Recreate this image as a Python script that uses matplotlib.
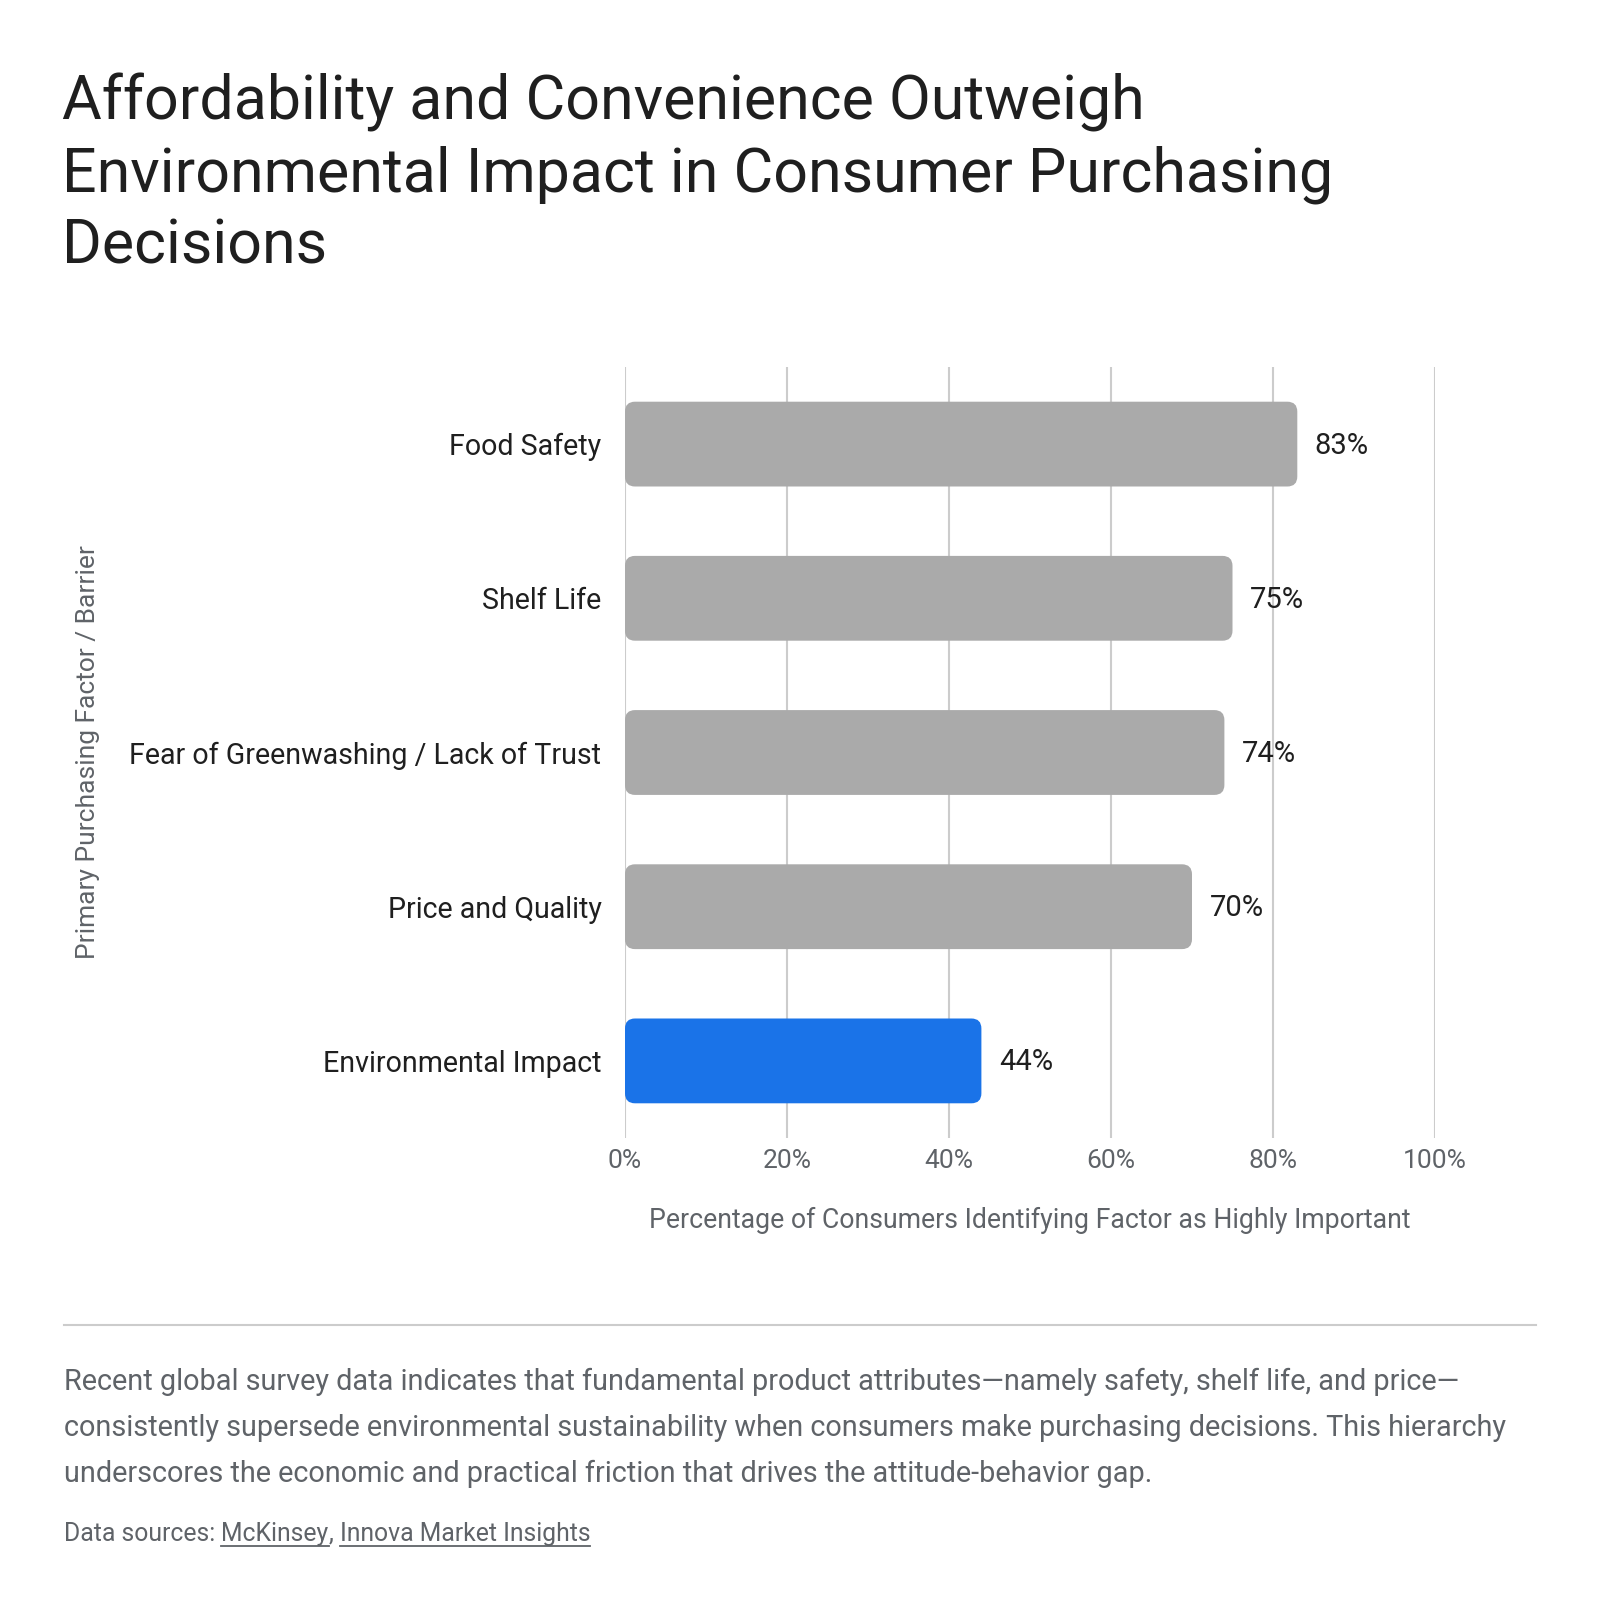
import matplotlib
matplotlib.use("Agg")
import matplotlib.pyplot as plt
from matplotlib.patches import FancyBboxPatch
from matplotlib.ticker import FuncFormatter

plt.rcParams['font.family'] = ['Roboto', 'DejaVu Sans']

categories = ["Food Safety", "Shelf Life", "Fear of Greenwashing / Lack of Trust",
              "Price and Quality", "Environmental Impact"]
values = [83, 75, 74, 70, 44]
highlight = [False, False, False, False, True]
x_ticks = [0, 20, 40, 60, 80, 100]

title_lines = ["Affordability and Convenience Outweigh",
               "Environmental Impact in Consumer Purchasing",
               "Decisions"]
body_lines = ["Recent global survey data indicates that fundamental product attributes\u2014namely safety, shelf life, and price\u2014",
              "consistently supersede environmental sustainability when consumers make purchasing decisions. This hierarchy",
              "underscores the economic and practical friction that drives the attitude-behavior gap."]

W, H = 1600, 1614
fig = plt.figure(figsize=(W / 100, H / 100), dpi=100)
fig.patch.set_facecolor("white")

def fx(px):
    return px / W

def fy(py):
    return 1 - py / H

ax_left, ax_right, ax_top, ax_bot = 625, 1435, 367, 1138
ax = fig.add_axes([fx(ax_left), fy(ax_bot), fx(ax_right - ax_left), (ax_bot - ax_top) / H])

ypos = list(range(len(categories)))
ax.set_xlim(0, 100)
ax.set_ylim(len(categories) - 0.5, -0.5)

bar_h = 0.55
px_per_x = (ax_right - ax_left) / 100.0
px_per_y = (ax_bot - ax_top) / len(categories)
radius_px = 10
for y, v, hl in zip(ypos, values, highlight):
    color = "#1a73e8" if hl else "#aaaaaa"
    p = FancyBboxPatch((0, y - bar_h / 2), v, bar_h,
                       boxstyle=f"round,pad=0,rounding_size={radius_px / px_per_x}",
                       mutation_aspect=px_per_x / px_per_y,
                       facecolor=color, edgecolor="none", zorder=3)
    ax.add_patch(p)
    ax.text(v + 17.5 / px_per_x, y + 0.01, f"{v}%", va="center", ha="left",
            fontsize=21, color="#1f1f1f", zorder=4)

ax.set_xticks(x_ticks)
ax.xaxis.set_major_formatter(FuncFormatter(lambda v, p: f"{v:.0f}%"))
ax.set_yticks(ypos)
ax.set_yticklabels(categories)
ax.tick_params(axis="y", length=0, pad=17, labelsize=20.6, labelcolor="#1f1f1f")
ax.tick_params(axis="x", length=0, pad=8, labelsize=19, labelcolor="#5f6368")
ax.grid(axis="x", color="#cccccc", linewidth=1.5, zorder=0)
ax.set_axisbelow(True)
for s in ax.spines.values():
    s.set_visible(False)

ax.set_xlabel("Percentage of Consumers Identifying Factor as Highly Important",
              fontsize=19.2, color="#5f6368", labelpad=24)
fig.text(fx(88), fy(752), "Primary Purchasing Factor / Barrier", rotation=90,
         ha="center", va="center", fontsize=19, color="#5f6368")

# Title
for i, line in enumerate(title_lines):
    fig.text(fx(62), fy(120 + i * 71.5), line, fontsize=43.8, color="#1f1f1f",
             ha="left", va="baseline")

# Separator
fig.add_artist(plt.Line2D([fx(64), fx(1536)], [fy(1325), fy(1325)],
                          color="#cccccc", linewidth=1.5))

for i, line in enumerate(body_lines):
    fig.text(fx(64), fy(1390 + i * 46), line, fontsize=20.8, color="#5f6368",
             ha="left", va="baseline")

# Sources with underlines
src_y = fy(1541)
t0 = fig.text(fx(64), src_y, "Data sources: ", fontsize=17.8, color="#5f6368",
              ha="left", va="baseline")
fig.canvas.draw()
r = fig.canvas.get_renderer()
bb = t0.get_window_extent(r)
x = bb.x1
for j, part in enumerate(["McKinsey", ", ", "Innova Market Insights"]):
    t = fig.text(x / W, src_y, part, fontsize=17.8, color="#5f6368", ha="left", va="baseline")
    fig.canvas.draw()
    b = t.get_window_extent(r)
    if part.strip(", "):
        fig.add_artist(plt.Line2D([b.x0 / W, b.x1 / W], [fy(1546), fy(1546)],
                                  color="#5f6368", linewidth=1.3))
    x = b.x1

fig.savefig("out.png", dpi=100, facecolor="white")
